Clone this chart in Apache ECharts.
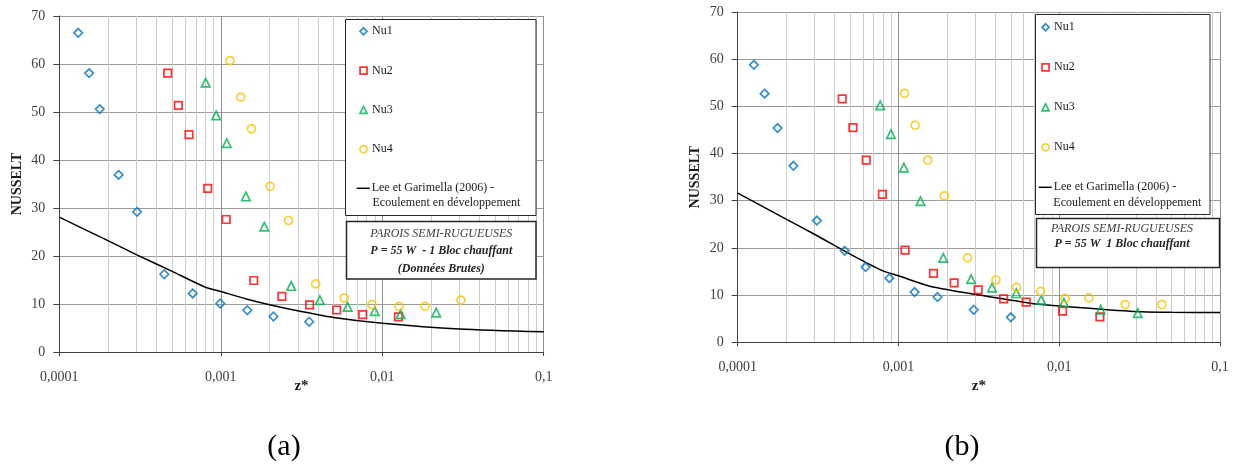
<!DOCTYPE html>
<html>
<head>
<meta charset="utf-8">
<script src="https://cdn.jsdelivr.net/npm/echarts@6/dist/echarts.min.js"></script>
<style>
html,body{margin:0;padding:0;background:#fff;}
#c{width:1234px;height:466px;}
</style>
</head>
<body>
<div id="c"></div>
<script>
// ---------- DATA ----------
// Chart (a) : raw data
const zA1  = [1.31e-4, 1.53e-4, 1.78e-4, 2.33e-4, 3.03e-4, 4.47e-4, 6.7e-4, 9.94e-4, 1.46e-3, 2.12e-3, 3.53e-3];
const nuA1 = [66.5, 58.1, 50.6, 36.9, 29.2, 16.2, 12.2, 10.1, 8.7, 7.4, 6.3];
const zA2  = [4.69e-4, 5.46e-4, 6.36e-4, 8.3e-4, 1.08e-3, 1.6e-3, 2.39e-3, 3.55e-3, 5.22e-3, 7.57e-3, 0.0126];
const nuA2 = [58.1, 51.4, 45.3, 34.1, 27.6, 14.9, 11.6, 9.8, 8.75, 7.8, 7.3];
const zA3  = [8.06e-4, 9.37e-4, 1.09e-3, 1.43e-3, 1.86e-3, 2.73e-3, 4.11e-3, 6.1e-3, 8.98e-3, 0.013, 0.0216];
const nuA3 = [56.1, 49.3, 43.5, 32.4, 26.1, 13.75, 10.8, 9.4, 8.5, 7.9, 8.2];
const zA4  = [1.14e-3, 1.33e-3, 1.55e-3, 2.02e-3, 2.63e-3, 3.87e-3, 5.82e-3, 8.63e-3, 0.0127, 0.0184, 0.0307];
const nuA4 = [60.7, 53.1, 46.5, 34.5, 27.4, 14.2, 11.25, 9.9, 9.5, 9.5, 10.8];
const zLeeA  = [1e-4, 2e-4, 3e-4, 5e-4, 7.9e-4, 1e-3, 1.46e-3, 2.1e-3, 3.1e-3, 5e-3, 0.01, 0.03, 0.1];
const nuLeeA = [28.1, 23.2, 20.3, 16.8, 13.6, 12.6, 11.0, 9.7, 8.5, 7.2, 6.0, 4.8, 4.2];

// Chart (b)
const zB1  = [1.26e-4, 1.47e-4, 1.77e-4, 2.22e-4, 3.11e-4, 4.63e-4, 6.25e-4, 8.77e-4, 1.26e-3, 1.75e-3, 2.94e-3, 5.0e-3];
const nuB1 = [58.8, 52.7, 45.4, 37.4, 25.8, 19.4, 15.95, 13.6, 10.65, 9.6, 6.9, 5.3];
const zB2  = [4.47e-4, 5.21e-4, 6.3e-4, 7.94e-4, 1.1e-3, 1.65e-3, 2.22e-3, 3.13e-3, 4.51e-3, 6.23e-3, 0.0105, 0.0179];
const nuB2 = [51.6, 45.5, 38.6, 31.35, 19.55, 14.6, 12.6, 11.1, 9.2, 8.5, 6.6, 5.4];
const zB3  = [7.7e-4, 8.98e-4, 1.08e-3, 1.37e-3, 1.9e-3, 2.83e-3, 3.82e-3, 5.41e-3, 7.73e-3, 0.0107, 0.0181, 0.0308];
const nuB3 = [50.2, 44.1, 37.0, 29.9, 17.9, 13.4, 11.6, 10.4, 9.0, 8.4, 6.9, 6.2];
const zB4  = [1.09e-3, 1.27e-3, 1.52e-3, 1.93e-3, 2.69e-3, 4.04e-3, 5.43e-3, 7.66e-3, 0.0109, 0.0153, 0.0257, 0.0435];
const nuB4 = [52.75, 46.0, 38.6, 31.05, 17.9, 13.2, 11.65, 10.8, 9.3, 9.4, 8.0, 8.0];
const zLeeB  = [1e-4, 2e-4, 3e-4, 5e-4, 7.94e-4, 1e-3, 1.57e-3, 3.2e-3, 6.6e-3, 0.01, 0.0275, 0.05, 0.1];
const nuLeeB = [31.6, 26.1, 22.9, 18.7, 15.2, 14.1, 11.9, 10.0, 8.3, 7.7, 6.6, 6.35, 6.3];

const seriesNames = ['Nu1', 'Nu2', 'Nu3', 'Nu4', 'Lee et Garimella (2006) -'];
const leeSecondLine = 'Ecoulement en développement';
const boxTextA = ['PAROIS SEMI-RUGUEUSES', 'P = 55 W  - 1 Bloc chauffant', '(Données Brutes)'];
const boxTextB = ['PAROIS SEMI-RUGUEUSES', 'P = 55 W  1 Bloc chauffant'];
const xAxisTitle = 'z*';
const yAxisTitle = 'NUSSELT';
const captions = ['(a)', '(b)'];

// ---------- STYLE ----------
const SERIF = '"Liberation Serif", "DejaVu Serif", serif';
const colors = ['#0070C0', '#FF0000', '#00B050', '#FFC000'];
const symbols = ['diamond', 'rect', 'triangle', 'circle'];
const symSizes = [8.5, 7.5, 8.5, 8];

function zip(a, b) { return a.map((v, i) => [v, b[i]]); }
function fmtX(v) {
  const d = Math.max(0, Math.round(-Math.log10(v)));
  return v.toFixed(d).replace('.', ',');
}

function xAx(gi, gap) {
  return {
    type: 'log', logBase: 10, gridIndex: gi, min: 1e-4, max: 0.1,
    name: xAxisTitle, nameLocation: 'middle', nameGap: gap, nameMoveOverlap: false,
    nameTextStyle: { fontFamily: SERIF, fontWeight: 'bold', fontSize: 15, color: '#1a1a1a' },
    axisLine: { show: true, lineStyle: { color: '#404040', width: 1 } },
    axisTick: { show: true, length: 4, lineStyle: { color: '#404040' } },
    axisLabel: { margin: 18, fontSize: 14, fontFamily: SERIF, color: '#404040', formatter: fmtX },
    splitLine: { show: true, lineStyle: { color: '#8f8f8f', width: 1 } },
    minorTick: { show: false, splitNumber: 9 },
    minorSplitLine: { show: true, lineStyle: { color: '#cdcdcd', width: 1 } }
  };
}
function yAx(gi, gap) {
  return {
    type: 'value', gridIndex: gi, min: 0, max: 70, interval: 10,
    name: yAxisTitle, nameLocation: 'middle', nameGap: gap, nameRotate: 90, nameMoveOverlap: false,
    nameTextStyle: { fontFamily: SERIF, fontWeight: 'bold', fontSize: 14, color: '#1a1a1a' },
    axisLine: { show: true, lineStyle: { color: '#404040', width: 1 } },
    axisTick: { show: true, length: 6, lineStyle: { color: '#404040' } },
    axisLabel: { margin: 14, fontSize: 14, fontFamily: SERIF, color: '#404040' },
    splitLine: { show: true, lineStyle: { color: '#9a9a9a', width: 1 } }
  };
}

function buildSeries(gi, zs, nus, zLee, nuLee) {
  const out = [];
  for (let k = 0; k < 4; k++) {
    out.push({
      type: 'scatter', name: seriesNames[k], xAxisIndex: gi, yAxisIndex: gi,
      symbol: symbols[k], symbolSize: symSizes[k],
      itemStyle: { color: 'rgba(255,255,255,0)', borderColor: colors[k], borderWidth: 1.7 },
      emphasis: { disabled: true },
      data: zip(zs[k], nus[k]), z: 4
    });
  }
  out.push({
    type: 'line', name: seriesNames[4], xAxisIndex: gi, yAxisIndex: gi,
    showSymbol: false, symbol: 'none', smooth: 0.25,
    lineStyle: { color: '#000', width: 1.5 }, itemStyle: { color: '#000' },
    emphasis: { disabled: true },
    data: zip(zLee, nuLee), z: 3
  });
  return out;
}

const legendText = { fontFamily: SERIF, fontSize: 12, lineHeight: 12, color: '#1a1a1a' };
function legendSymbols(left, top, gap) {
  return {
    orient: 'vertical', left: left, top: top, padding: 0,
    itemWidth: 7, itemHeight: 7, itemGap: gap,
    data: seriesNames.slice(0, 4),
    itemStyle: { borderWidth: 1.7 },
    selectedMode: false,
    textStyle: legendText,
    z: 6
  };
}
function legendLine(left, top) {
  return {
    orient: 'vertical', left: left, top: top, padding: 0,
    itemWidth: 13, itemHeight: 1.5,
    data: [{ name: seriesNames[4], icon: 'path://M0,0H13V1.5H0Z' }],
    itemStyle: { color: '#000', borderWidth: 0 },
    selectedMode: false,
    textStyle: Object.assign({ padding: [0, 0, 0, -3] }, legendText),
    z: 6
  };
}

function txt(x, y, s, font, fill, align) {
  return { type: 'text', x: x, y: y, z: 7,
    style: { text: s, font: font, fill: fill, align: align || 'center', verticalAlign: 'middle' } };
}
function box(x, y, w, h, lw) {
  return { type: 'rect', z: 5, shape: { x: x, y: y, width: w, height: h },
    style: { fill: '#fff', stroke: '#262626', lineWidth: lw } };
}

const option = {
  animation: false,
  backgroundColor: '#fff',
  grid: [
    { left: 59.3, top: 16, width: 484.4, height: 336, containLabel: false },
    { left: 737.7, top: 12, width: 482.3, height: 330.3, containLabel: false }
  ],
  xAxis: [xAx(0, 27), xAx(1, 36)],
  yAxis: [yAx(0, 35), yAx(1, 35)],
  legend: [
    legendSymbols(359.2, 25.3, 27.3), legendLine(356.7, 182.3),
    legendSymbols(1041.2, 21.3, 28), legendLine(1038.7, 181.3)
  ],
  series: [].concat(
    buildSeries(0, [zA1, zA2, zA3, zA4], [nuA1, nuA2, nuA3, nuA4], zLeeA, nuLeeA),
    buildSeries(1, [zB1, zB2, zB3, zB4], [nuB1, nuB2, nuB3, nuB4], zLeeB, nuLeeB)
  ),
  graphic: [
    box(345.5, 19.5, 190.5, 196, 1),
    box(346.5, 221.5, 189.5, 57.5, 1.5),
    txt(372.5, 203.3, leeSecondLine, '12px ' + SERIF, '#1a1a1a', 'left'),
    txt(441.3, 234, boxTextA[0], 'italic 12px ' + SERIF, '#404040'),
    txt(441.3, 251, boxTextA[1], 'italic bold 12px ' + SERIF, '#262626'),
    txt(441.3, 269, boxTextA[2], 'italic bold 12px ' + SERIF, '#262626'),

    box(1035.5, 14.5, 174.5, 200, 1),
    box(1036.5, 218.5, 183, 49, 1.5),
    txt(1053.3, 202.7, leeSecondLine, '12px ' + SERIF, '#1a1a1a', 'left'),
    txt(1122, 229.3, boxTextB[0], 'italic 12px ' + SERIF, '#404040'),
    txt(1122, 244, boxTextB[1], 'italic bold 12px ' + SERIF, '#262626'),

    txt(284, 447, captions[0], '30px ' + SERIF, '#000'),
    txt(962, 447, captions[1], '30px ' + SERIF, '#000')
  ]
};

const chart = echarts.init(document.getElementById('c'), null, { renderer: 'canvas', width: 1234, height: 466 });
chart.setOption(option);
</script>
</body>
</html>
